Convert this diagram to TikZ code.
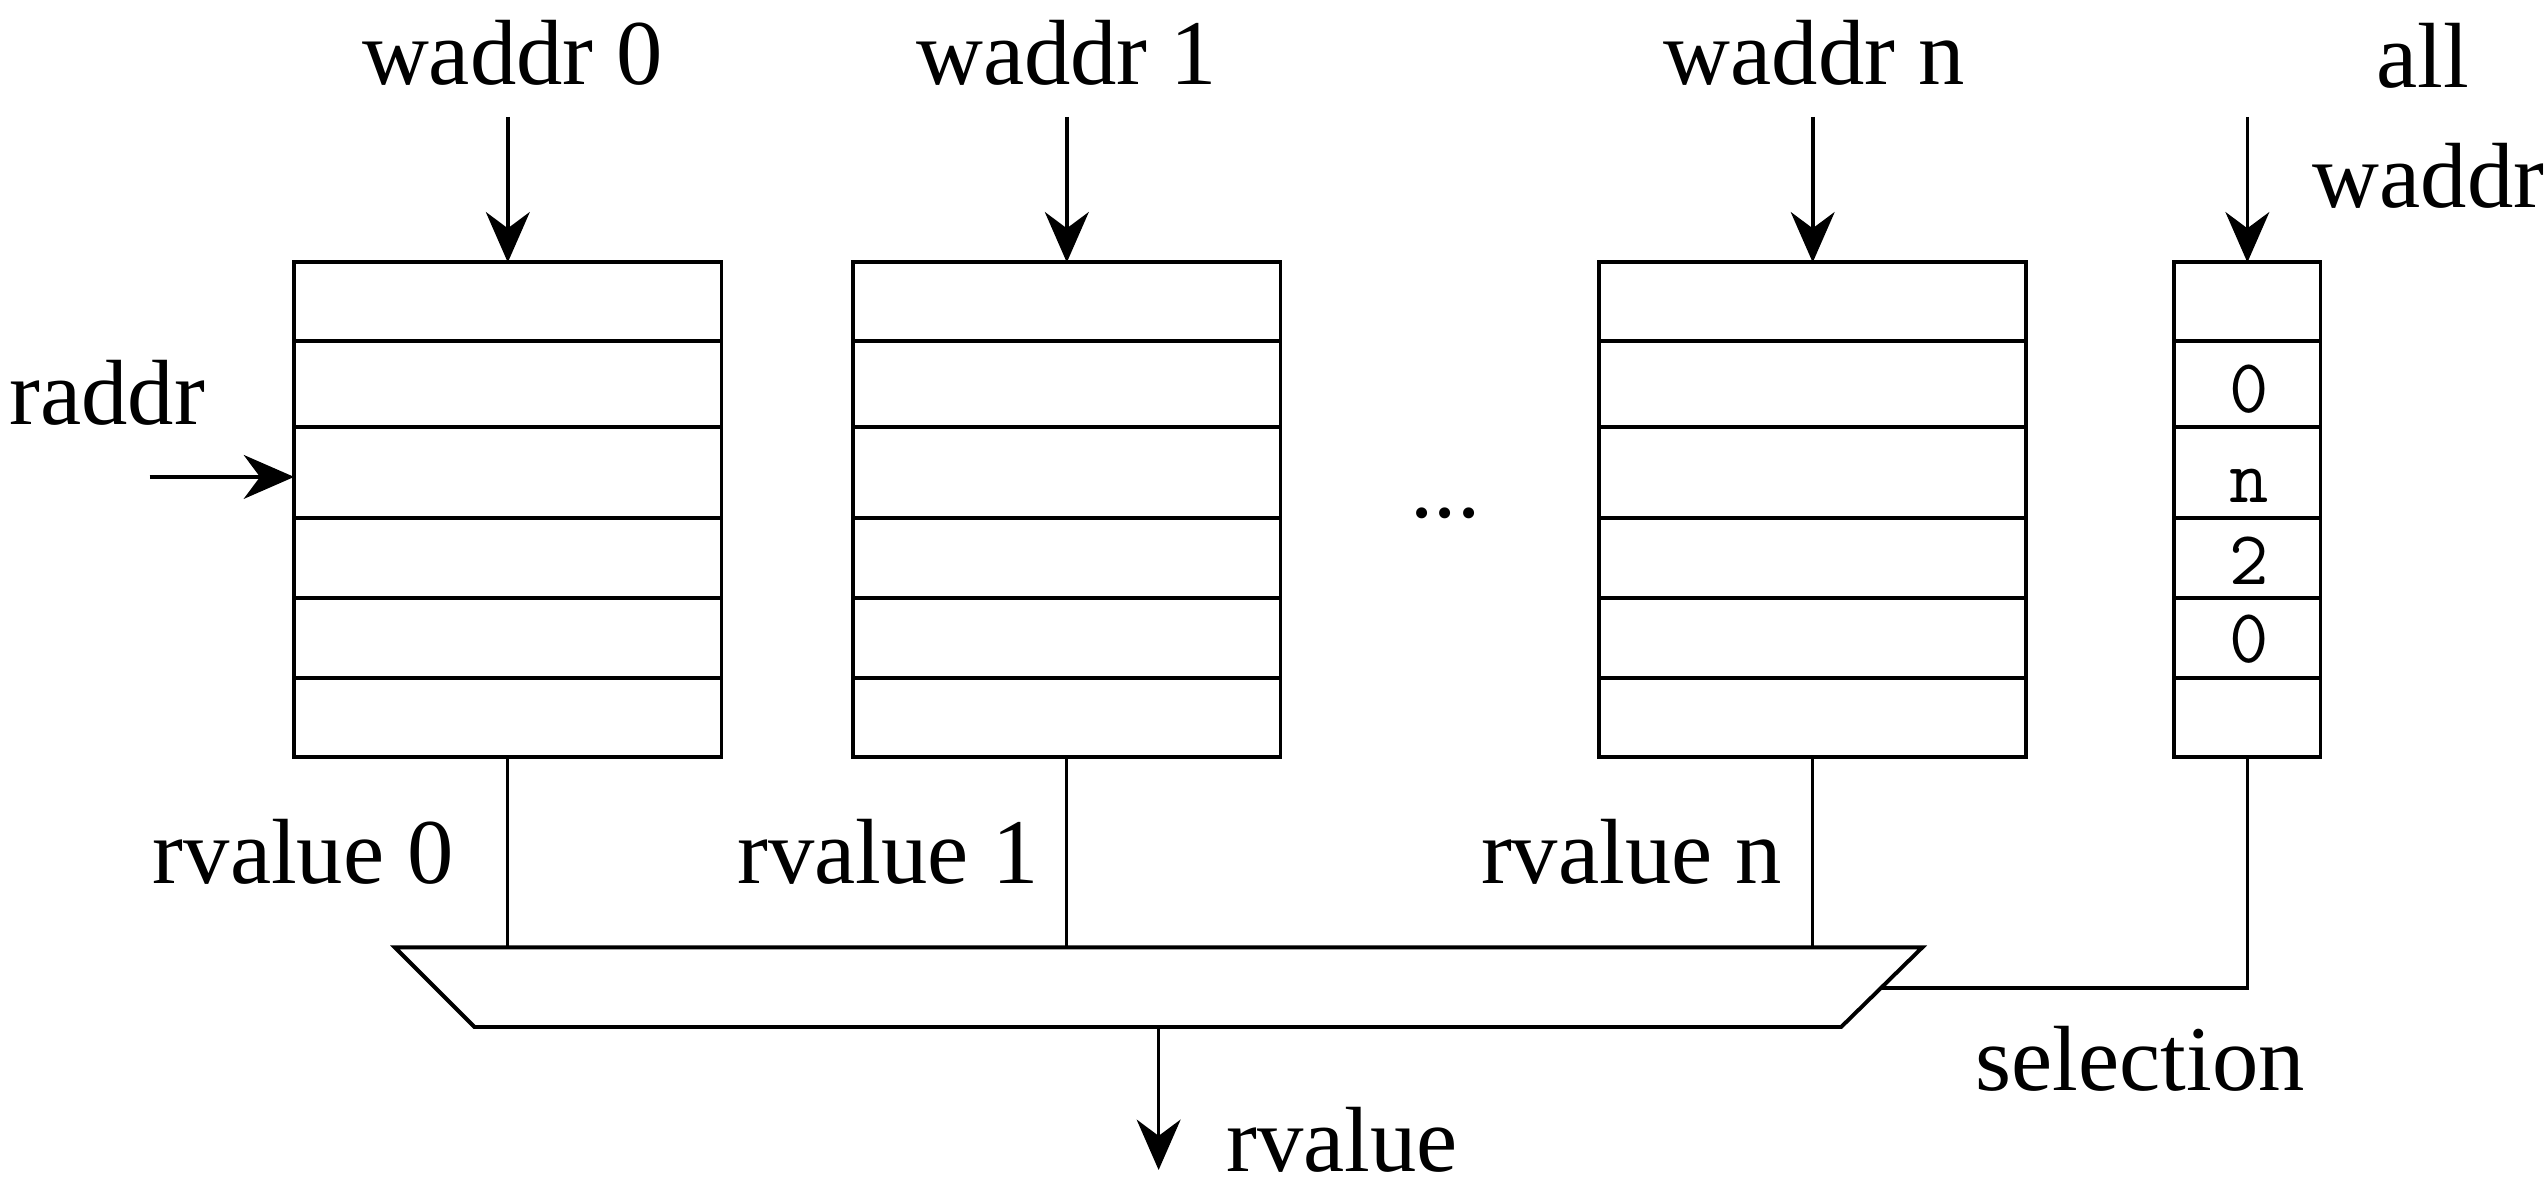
\documentclass[tikz,border=0pt]{standalone}
\usepackage{fontspec}
\setmainfont{Liberation Serif}
\usetikzlibrary{arrows.meta}
\newcommand{\lblfont}{\fontsize{28.5}{34}\selectfont}
\newcommand{\cellfont}{\ttfamily\fontsize{23.5}{28}\selectfont}
\begin{document}
\begin{tikzpicture}[x=0.5pt,y=-0.5pt,
  regbox/.style={draw, line width=1.2pt, minimum height=152.25pt, inner sep=0pt, outer sep=0pt},
  rowline/.style={line width=1.2pt},
  lbl/.style={inner sep=0pt, outer sep=0pt, anchor=base, font=\lblfont},
  cell/.style={inner sep=0pt, outer sep=0pt, anchor=base, font=\cellfont},
  inarrow/.style={line width=1.1pt, -{Stealth[length=15.5pt,width=13.5pt,inset=5pt]}},
  wire/.style={line width=0.85pt},
  selwire/.style={line width=1.1pt},
  muxshape/.style={line width=1.2pt, line join=miter}]
\useasboundingbox (0,0) rectangle (1568,736.6);

% register boxes
\node[regbox, minimum width=131.5pt] (box0) at (312.5,313.75) {};
\node[regbox, minimum width=131.5pt] (box1) at (656.5,313.75) {};
\node[regbox, minimum width=131.5pt] (boxn) at (1115.5,313.75) {};
\node[regbox, minimum width=45pt]    (sel)  at (1383,313.75) {};

% row separators
\coordinate (r1) at (0,210);
\coordinate (r2) at (0,262.6);
\coordinate (r3) at (0,319);
\coordinate (r4) at (0,368);
\coordinate (r5) at (0,417);
\foreach \b in {box0,box1,boxn,sel}
  \foreach \r in {r1,r2,r3,r4,r5}
    \draw[rowline] (\b.west |- \r) -- (\b.east |- \r);

% selection table contents
\node[cell] (c1) at (1384,254) {0};
\node[cell] (c2) at (1384,309) {n};
\node[cell] (c3) at (1384,360) {2};
\node[cell] (c4) at (1384,408) {0};

% top labels
\node[lbl] (lw0) at (315.4,51.7) {waddr 0};
\node[lbl] (lw1) at (656.5,51.7) {waddr 1};
\node[lbl] (lwn) at (1116.5,51.7) {waddr n};
\node[lbl] (lall) at (1491,54) {all};
\node[lbl] (lallw) at (1494.5,127.6) {waddr};
\node[lbl] (lraddr) at (66,261.5) {raddr};
\node[lbl] (ldots) at (889.5,318.6) {...};

% write address arrows
\coordinate (wtop) at (0,72);
\foreach \b in {box0,box1,boxn,sel}
  \draw[inarrow] (\b.north |- wtop) -- (\b.north);

% read address arrow
\coordinate (rs) at (92,293.5);
\draw[inarrow] (rs) -- (box0.west |- rs);

% multiplexer
\coordinate (mTL) at (243,583);
\coordinate (mTR) at (1183,583);
\coordinate (mBR) at (1133,632);
\coordinate (mBL) at (292,632);
\draw[muxshape] (mTL) -- (mTR) -- (mBR) -- (mBL) -- cycle;
\coordinate (mout) at (713,632);
\coordinate (outend) at (713,720);
\coordinate (msel) at (1157.5,608);

% rvalue wires
\foreach \b in {box0,box1,boxn}
  \draw[wire] (\b.south) -- (\b.south |- mTL);

% selection wire
\draw[selwire] (sel.south) |- (msel);

% output
\draw[inarrow] (mout) -- (outend);

% bottom labels
\node[lbl] (lrv0) at (186.7,543.6) {rvalue 0};
\node[lbl] (lrv1) at (546.5,543.6) {rvalue 1};
\node[lbl] (lrvn) at (1004,543.6) {rvalue n};
\node[lbl] (lsel) at (1317,670.8) {selection};
\node[lbl] (lout) at (825.8,721) {rvalue};
\end{tikzpicture}
\end{document}
